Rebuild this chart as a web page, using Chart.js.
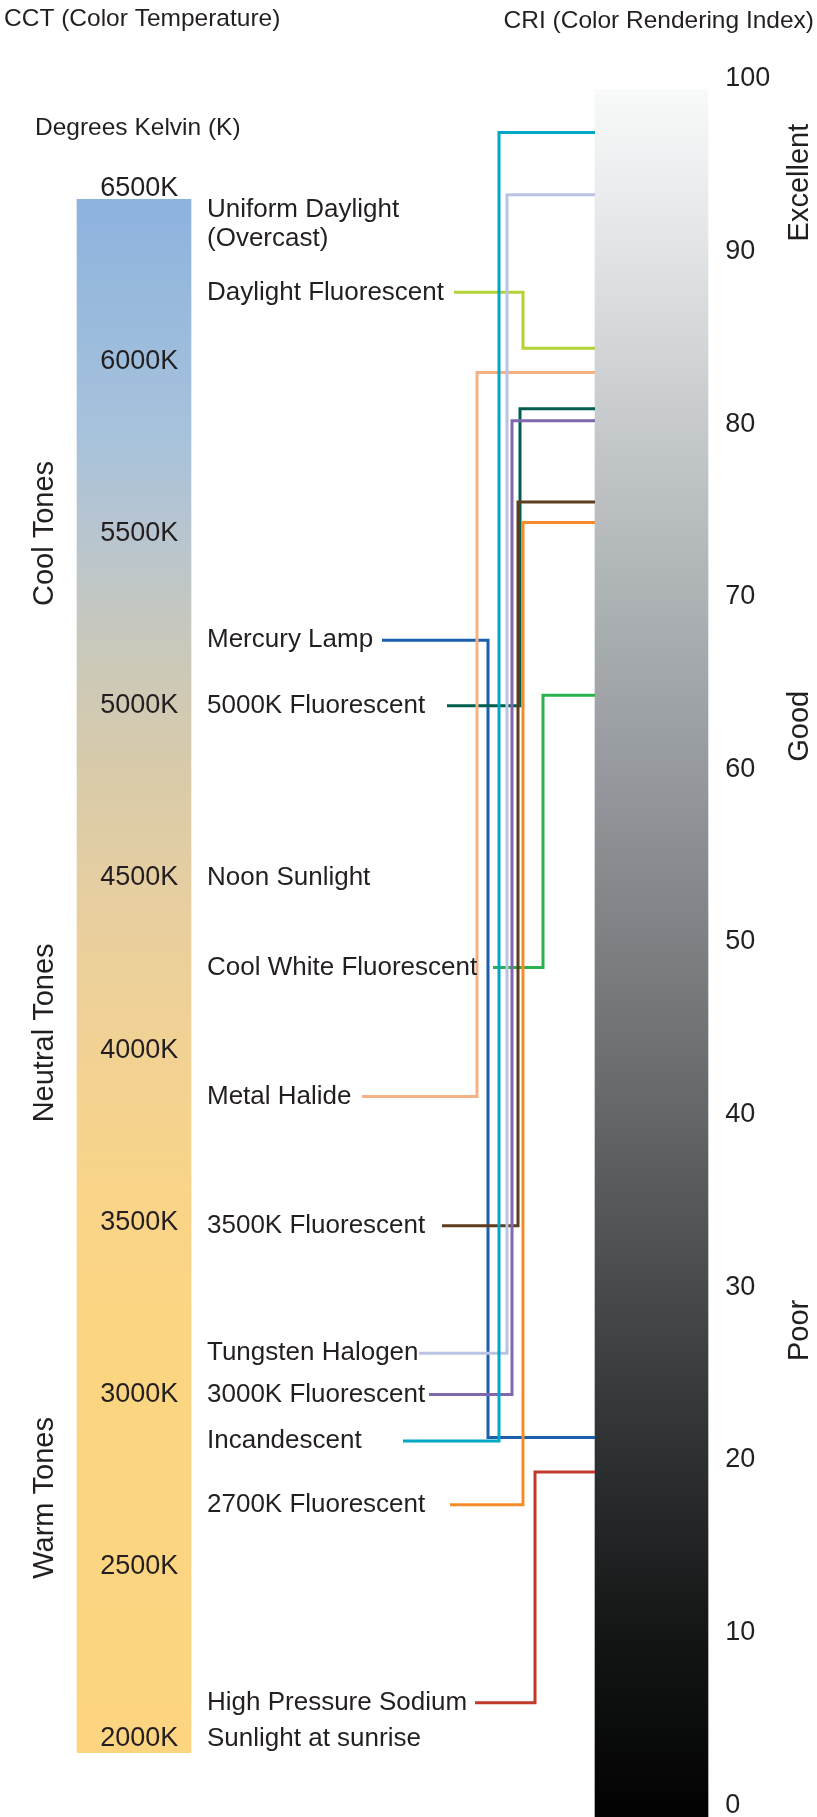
<!DOCTYPE html>
<html>
<head>
<meta charset="utf-8">
<style>
  html, body { margin: 0; padding: 0; background: #ffffff; }
  #wrap { width: 817px; height: 1817px; }
</style>
<script src="https://cdn.jsdelivr.net/npm/chart.js@4.4.1/dist/chart.umd.min.js"></script>
</head>
<body>
<div id="wrap"><canvas id="c" width="817" height="1817"></canvas></div>
<script>
// ---------------- data ----------------
const columns = ['CCT', 'Light source', '', '', 'CRI'];
const cctTicks = [2000, 2500, 3000, 3500, 4000, 4500, 5000, 5500, 6000, 6500];
const criTicks = [0, 10, 20, 30, 40, 50, 60, 70, 80, 90, 100];
const cctBarRange = [1960, 6470];
const criBarRange = [-1, 99.4];

const sourceNames = ['Uniform Daylight\n(Overcast)', 'Daylight Fluorescent', 'Mercury Lamp',
  '5000K Fluorescent', 'Noon Sunlight', 'Cool White Fluorescent', 'Metal Halide',
  '3500K Fluorescent', 'Tungsten Halogen', '3000K Fluorescent', 'Incandescent',
  '2700K Fluorescent', 'High Pressure Sodium', 'Sunlight at sunrise'];
const sourceCCT = [6440, 6200, 5190, 5000, 4500, 4240, 3865, 3490, 3120, 3000, 2865, 2680, 2105, 2000];
const sourceCRI = [null, 84.4, 21.3, 80.9, null, 64.3, 83.0, 75.5, 93.3, 80.2, 96.9, 74.3, 19.3, null];

const toneNames = ['Cool Tones', 'Neutral Tones', 'Warm Tones'];
const toneCCT = [5500, 4050, 2700];
const criBandNames = ['Excellent', 'Good', 'Poor'];
const criBandCRI = [94, 62.5, 27.5];

// ---------------- styles / layout ----------------
const FONT = "'Liberation Sans', Arial, Helvetica, sans-serif";
const TEXT = '#231f20';
const sourceColors = [null, '#b2d235', '#1b5fad', '#005e50', null, '#2bb24c', '#f5b183',
  '#5e3c1e', '#bac3e3', '#8068ae', '#00a8c5', '#f68b2a', '#c0392b', null];
// connector layout (px): where the leader starts after the label start, and lane inset from the CRI bar
const leadStart = [null, 247, 175, 240, null, 286, 155, 235, 212, 222, 196, 243, 268, null];
const laneInset = [null, 72, 107, 75, null, 52, 118, 77, 88, 83, 96, 72, 60, null];
const cctStops = [[6500, '#8cb2de'], [5800, '#a6c2dc'], [5500, '#b8c5cf'], [5200, '#c8c8bc'],
  [4800, '#d9cbaa'], [4400, '#e8cf9f'], [4000, '#f2d294'], [3600, '#f9d489'], [3200, '#fcd582'], [2000, '#fdd581']];
const criStops = [[100, '#fafbfb'], [90, '#e1e4e6'], [80, '#c6cacd'], [70, '#adb2b5'], [60, '#969a9e'],
  [50, '#7d8184'], [40, '#646769'], [30, '#484b4c'], [20, '#2d3031'], [10, '#141616'], [0, '#030303']];

function gradientFor(scaleId, stops, fallback) {
  return (ctx) => {
    const chart = ctx.chart;
    const area = chart.chartArea;
    const s = chart.scales[scaleId];
    if (!area || !s) return fallback;
    const g = chart.ctx.createLinearGradient(0, area.top, 0, area.bottom);
    const h = area.bottom - area.top;
    stops.forEach(([v, c]) => {
      const t = (s.getPixelForValue(v) - area.top) / h;
      g.addColorStop(Math.min(1, Math.max(0, t)), c);
    });
    return g;
  };
}

const overlay = {
  id: 'overlay',
  afterDatasetsDraw(chart) {
    const c = chart.ctx;
    const yK = chart.scales.yK, yC = chart.scales.yCRI;
    const cctBar = chart.getDatasetMeta(0).data[0];
    const criBar = chart.getDatasetMeta(1).data[columns.length - 1];
    const labelX = cctBar.x + cctBar.width / 2 + 16;
    const criLeft = criBar.x - criBar.width / 2;
    c.save();
    c.lineWidth = 3;
    c.lineJoin = 'miter';
    c.lineCap = 'butt';
    sourceNames.forEach((name, i) => {
      if (sourceCRI[i] == null) return;
      const y1 = yK.getPixelForValue(sourceCCT[i]);
      const y2 = yC.getPixelForValue(sourceCRI[i]);
      const x0 = labelX + leadStart[i];
      const xl = criLeft - laneInset[i];
      c.strokeStyle = sourceColors[i];
      c.beginPath();
      c.moveTo(x0, y1);
      c.lineTo(xl, y1);
      c.lineTo(xl, y2);
      c.lineTo(criLeft, y2);
      c.stroke();
    });
    c.restore();
  },
  afterDraw(chart) {
    const c = chart.ctx;
    const yK = chart.scales.yK, yC = chart.scales.yCRI;
    const cctBar = chart.getDatasetMeta(0).data[0];
    const criBar = chart.getDatasetMeta(1).data[columns.length - 1];
    const labelX = cctBar.x + cctBar.width / 2 + 16;
    c.save();
    c.fillStyle = TEXT;
    c.textBaseline = 'middle';
    // titles
    c.font = '24.5px ' + FONT;
    c.textAlign = 'left';
    c.fillText('CCT (Color Temperature)', 4, 19);
    c.fillText('Degrees Kelvin (K)', 35, 128);
    c.textAlign = 'right';
    c.fillText('CRI (Color Rendering Index)', 814, 21);
    // light source labels
    c.font = '26px ' + FONT;
    c.textAlign = 'left';
    sourceNames.forEach((name, i) => {
      const y = yK.getPixelForValue(sourceCCT[i]);
      name.split('\n').forEach((line, j) => c.fillText(line, labelX, y + j * 29));
    });
    // rotated group labels
    c.font = '29px ' + FONT;
    c.textAlign = 'center';
    const toneX = cctBar.x - cctBar.width / 2 - 32;
    toneNames.forEach((t, i) => {
      c.save();
      c.translate(toneX, yK.getPixelForValue(toneCCT[i]));
      c.rotate(-Math.PI / 2);
      c.fillText(t, 0, 0);
      c.restore();
    });
    const bandX = criBar.x + criBar.width / 2 + 92;
    criBandNames.forEach((t, i) => {
      c.save();
      c.translate(bandX, yC.getPixelForValue(criBandCRI[i]));
      c.rotate(-Math.PI / 2);
      c.fillText(t, 0, 0);
      c.restore();
    });
    c.restore();
  }
};

new Chart(document.getElementById('c'), {
  type: 'bar',
  data: {
    labels: columns,
    datasets: [
      {
        label: 'CCT',
        data: columns.map((_, i) => (i === 0 ? cctBarRange : null)),
        yAxisID: 'yK',
        grouped: false,
        barThickness: 114,
        borderWidth: 0,
        borderSkipped: false,
        backgroundColor: gradientFor('yK', cctStops, '#fcd582')
      },
      {
        label: 'CRI',
        data: columns.map((_, i) => (i === columns.length - 1 ? criBarRange : null)),
        yAxisID: 'yCRI',
        grouped: false,
        barThickness: 113,
        borderWidth: 0,
        borderSkipped: false,
        backgroundColor: gradientFor('yCRI', criStops, '#888888')
      }
    ]
  },
  options: {
    responsive: false,
    animation: false,
    devicePixelRatio: 1,
    layout: { padding: { top: 79, bottom: 0, left: 0, right: 0 } },
    plugins: { legend: { display: false }, tooltip: { enabled: false }, title: { display: false } },
    scales: {
      x: { display: false },
      yK: {
        type: 'linear',
        position: 'left',
        min: 1773.5,
        max: 6819.4,
        grid: { display: false, drawTicks: false },
        border: { display: false },
        afterBuildTicks: (s) => { s.ticks = cctTicks.map((v) => ({ value: v })); },
        afterFit: (s) => { s.width = 69.31; s.paddingTop = 0; s.paddingBottom = 0; },
        ticks: {
          z: 1,
          mirror: true,
          padding: 31,
          color: TEXT,
          font: { family: FONT, size: 27 },
          callback: (v) => v + 'K'
        }
      },
      yCRI: {
        type: 'linear',
        position: 'right',
        min: -0.69,
        max: 100,
        grid: { display: false, drawTicks: false },
        border: { display: false },
        afterBuildTicks: (s) => { s.ticks = criTicks.map((v) => ({ value: v })); },
        afterFit: (s) => { s.width = 100.81; s.paddingTop = 0; s.paddingBottom = 0; },
        ticks: {
          padding: 9,
          color: TEXT,
          font: { family: FONT, size: 27 }
        }
      }
    }
  },
  plugins: [overlay]
});
</script>
</body>
</html>
